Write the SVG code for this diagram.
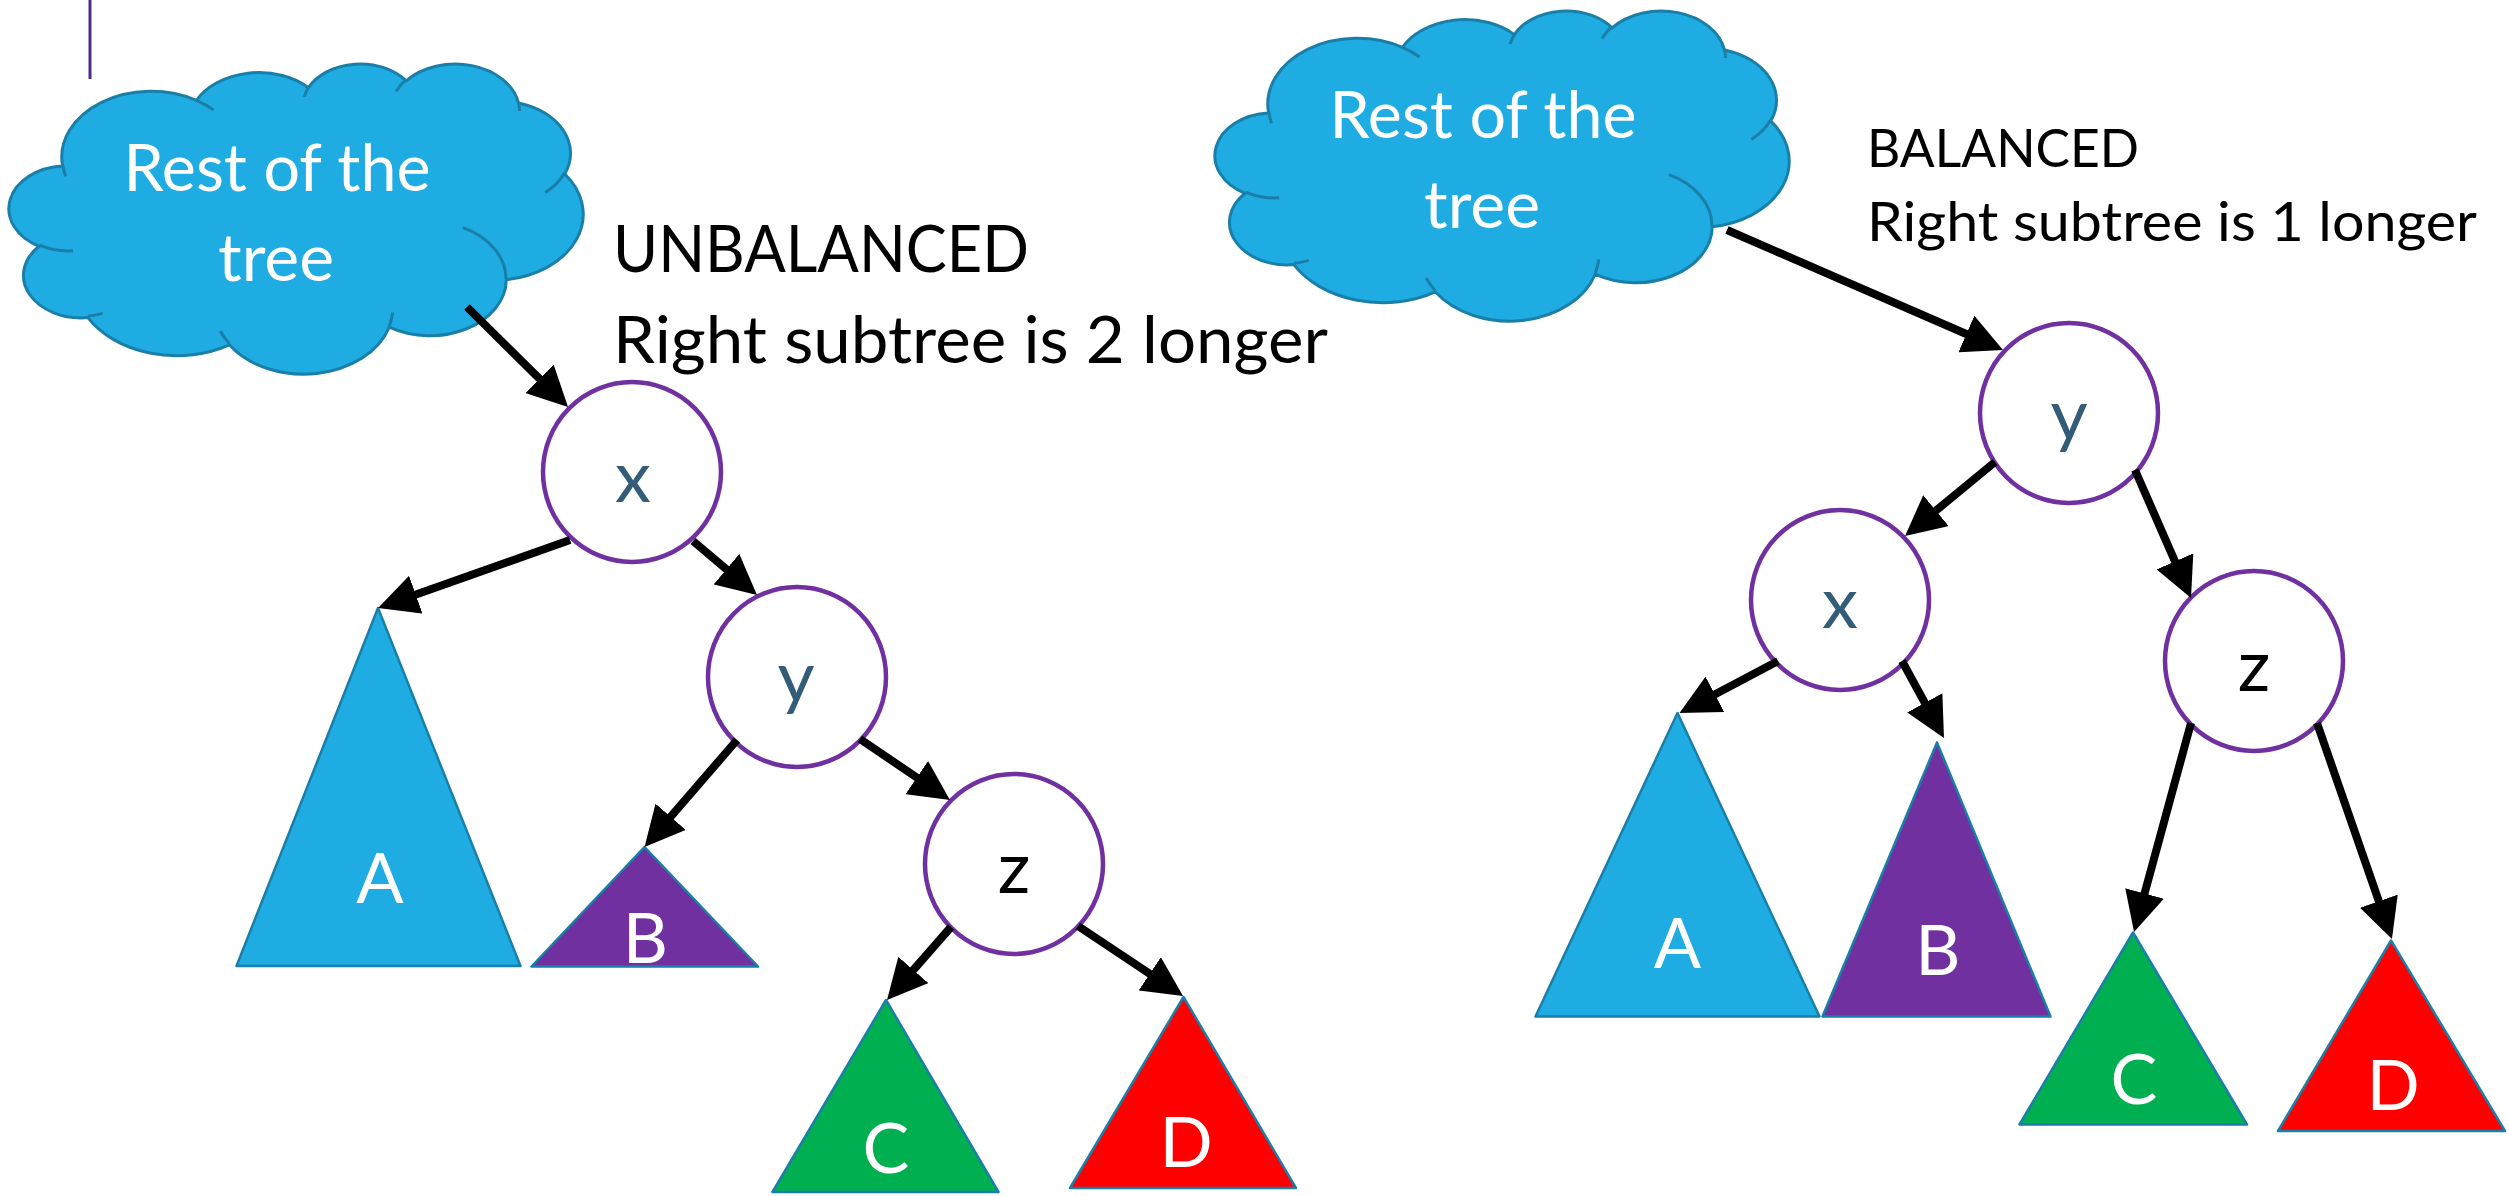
<svg xmlns="http://www.w3.org/2000/svg" xmlns:xlink="http://www.w3.org/1999/xlink" width="2509" height="1196" viewBox="0 0 2509 1196">
<style>
.txt{font-family:Lato,"Liberation Sans",sans-serif;}
.cloudFill{fill:#1FACE2;stroke:#1A7FA8;stroke-width:3;}
.cloudDetail{fill:none;stroke:#1A7FA8;stroke-width:3;}
.cloudText{font-family:Lato,"Liberation Sans",sans-serif;font-size:66px;fill:#FFFFFF;text-anchor:middle;}
.node{fill:#FFFFFF;stroke:#7030A0;stroke-width:4.5;}
.nodeLbl{font-family:Lato,"Liberation Sans",sans-serif;font-size:72px;text-anchor:middle;}
.blue{fill:#335C78;}
.black{fill:#000000;}
.tri{stroke:#1A7FA8;stroke-width:2.5;stroke-linejoin:round;}
.triLbl{font-family:Lato,"Liberation Sans",sans-serif;font-size:70px;fill:#FFFFFF;text-anchor:middle;}
.edge{stroke:#000000;stroke-width:8;fill:none;marker-end:url(#ah);}
.note{font-family:Lato,"Liberation Sans",sans-serif;fill:#000000;}
</style>
<defs>
<marker id="ah" markerUnits="userSpaceOnUse" viewBox="0 0 40 40" markerWidth="40" markerHeight="40" refX="20" refY="20" orient="auto">
<path d="M0,0 L40,20 L0,40 Z" fill="#000000"/>
</marker>
<g id="cloudShape">
<path class="cloudFill" d="M62.6,166.1 A89.4,65.9 0 0 1 196.4,100.3 A70.6,52.1 0 0 1 308.4,87.6 A57.8,42.7 0 0 1 406.1,80.8 A64.3,47.3 0 0 1 518.5,103 A70.6,52.2 0 0 1 564.8,174 A89.7,66.2 0 0 1 506.3,279.7 A76.6,56.5 0 0 1 389.2,327.2 A89.4,66.1 0 0 1 229.3,344.8 A102.2,75.7 0 0 1 87.9,317.6 A57.7,42.5 0 0 1 39.1,246.3 A57.5,42.7 0 0 1 62.6,166.1 Z"/>
<path class="cloudDetail" d="M73.1,250.8 A57.5,42.7 0 0 1 39.6,245.1 M102.7,313.4 A57.7,42.5 0 0 1 88.1,316.2 M229.2,343.5 A89.4,66.1 0 0 1 220.3,331 M392.7,312.4 A89.4,66.1 0 0 1 389.2,326.1 M462.9,227.7 A76.6,56.5 0 0 1 505.9,278.9 M564.4,173.2 A70.6,52.2 0 0 1 545.3,192.4 M518.4,101.9 A64.3,47.3 0 0 1 519.5,111 M396,91.4 A64.3,47.3 0 0 1 405.8,79.8 M304.2,96.9 A57.8,42.7 0 0 1 308.9,86.9 M196.4,100.3 A89.4,65.9 0 0 1 213.6,110 M65.6,176.3 A89.4,65.9 0 0 1 62.9,164.9"/>
</g>
</defs>

<line x1="90" y1="0" x2="90" y2="79" stroke="#4E2A84" stroke-width="3"/>

<!-- Left (unbalanced) -->
<g id="cloud-left">
<use href="#cloudShape" xlink:href="#cloudShape"/>
<text class="cloudText" x="277" y="191" textLength="307" lengthAdjust="spacingAndGlyphs">Rest of the</text>
<text class="cloudText" x="276" y="281">tree</text>
</g>

<g id="label-unbalanced">
<text class="note" x="613" y="272" font-size="66" textLength="416" lengthAdjust="spacingAndGlyphs">UNBALANCED</text>
<text class="note" x="613" y="363" font-size="66" textLength="715" lengthAdjust="spacingAndGlyphs">Right subtree is 2 longer</text>
</g>

<g id="L-x"><ellipse class="node" cx="632" cy="472" rx="89" ry="90"/><text class="nodeLbl blue" x="633" y="502">x</text></g>
<g id="L-y"><ellipse class="node" cx="797" cy="677" rx="89" ry="90"/><text class="nodeLbl blue" x="796" y="702">y</text></g>
<g id="L-z"><ellipse class="node" cx="1014" cy="864" rx="89" ry="90"/><text class="nodeLbl black" x="1014" y="893">z</text></g>

<g id="L-A"><polygon class="tri" fill="#1FACE2" points="378,608 236.5,966 520.5,966"/><text class="triLbl" x="380" y="903">A</text></g>
<g id="L-B"><polygon class="tri" fill="#7030A0" points="644.5,847 531.5,966.5 758,966.5"/><text class="triLbl" x="645.5" y="963">B</text></g>
<g id="L-C"><polygon class="tri" fill="#00B050" points="886,1000 772.5,1192 998.5,1192"/><text class="triLbl" x="886" y="1173">C</text></g>
<g id="L-D"><polygon class="tri" fill="#FF0000" points="1183.5,997 1070,1188 1296,1188"/><text class="triLbl" x="1186" y="1167">D</text></g>

<!-- Right (balanced) -->
<g id="cloud-right">
<use href="#cloudShape" xlink:href="#cloudShape" transform="translate(1206,-53)"/>
<text class="cloudText" x="1483" y="138" textLength="307" lengthAdjust="spacingAndGlyphs">Rest of the</text>
<text class="cloudText" x="1482" y="228">tree</text>
</g>

<g id="label-balanced">
<text class="note" x="1867" y="167" font-size="53" textLength="272" lengthAdjust="spacingAndGlyphs">BALANCED</text>
<text class="note" x="1867" y="241" font-size="54" textLength="610" lengthAdjust="spacingAndGlyphs">Right subtree is 1 longer</text>
</g>

<g id="R-y"><ellipse class="node" cx="2069" cy="413" rx="89" ry="90"/><text class="nodeLbl blue" x="2069" y="440">y</text></g>
<g id="R-x"><ellipse class="node" cx="1840" cy="600" rx="89" ry="90"/><text class="nodeLbl blue" x="1840" y="628">x</text></g>
<g id="R-z"><ellipse class="node" cx="2254" cy="661" rx="89" ry="90"/><text class="nodeLbl black" x="2254" y="691">z</text></g>

<g id="R-A"><polygon class="tri" fill="#1FACE2" points="1677.5,713 1535.5,1016.5 1819.5,1016.5"/><text class="triLbl" x="1677.5" y="968">A</text></g>
<g id="R-B"><polygon class="tri" fill="#7030A0" points="1937,742.5 1822.5,1016.5 2050.5,1016.5"/><text class="triLbl" x="1938" y="975">B</text></g>
<g id="R-C"><polygon class="tri" fill="#00B050" points="2133,932.5 2019.5,1124.5 2247,1124.5"/><text class="triLbl" x="2134" y="1104">C</text></g>
<g id="R-D"><polygon class="tri" fill="#FF0000" points="2391,940.5 2278,1131 2505,1131"/><text class="triLbl" x="2393" y="1110">D</text></g>

<g id="connectors">
<line class="edge" x1="467" y1="307" x2="553.8" y2="392.9"/>
<line class="edge" x1="570" y1="540" x2="396.9" y2="601.3"/>
<line class="edge" x1="693" y1="541" x2="741.7" y2="582.1"/>
<line class="edge" x1="737" y1="740" x2="657.6" y2="831.9"/>
<line class="edge" x1="860" y1="739" x2="933.4" y2="788.8"/>
<line class="edge" x1="951" y1="927" x2="900.2" y2="985"/>
<line class="edge" x1="1078" y1="926" x2="1166.4" y2="984.9"/>
<line class="edge" x1="1727" y1="230" x2="1984.7" y2="342"/>
<line class="edge" x1="1995" y1="462" x2="1920.5" y2="523.3"/>
<line class="edge" x1="2135" y1="470" x2="2183" y2="579.7"/>
<line class="edge" x1="1778" y1="661" x2="1697.2" y2="703.7"/>
<line class="edge" x1="1902" y1="661" x2="1934.4" y2="720.4"/>
<line class="edge" x1="2191" y1="723" x2="2139.3" y2="912.7"/>
<line class="edge" x1="2317" y1="723" x2="2385.4" y2="920.1"/>
</g>
</svg>
